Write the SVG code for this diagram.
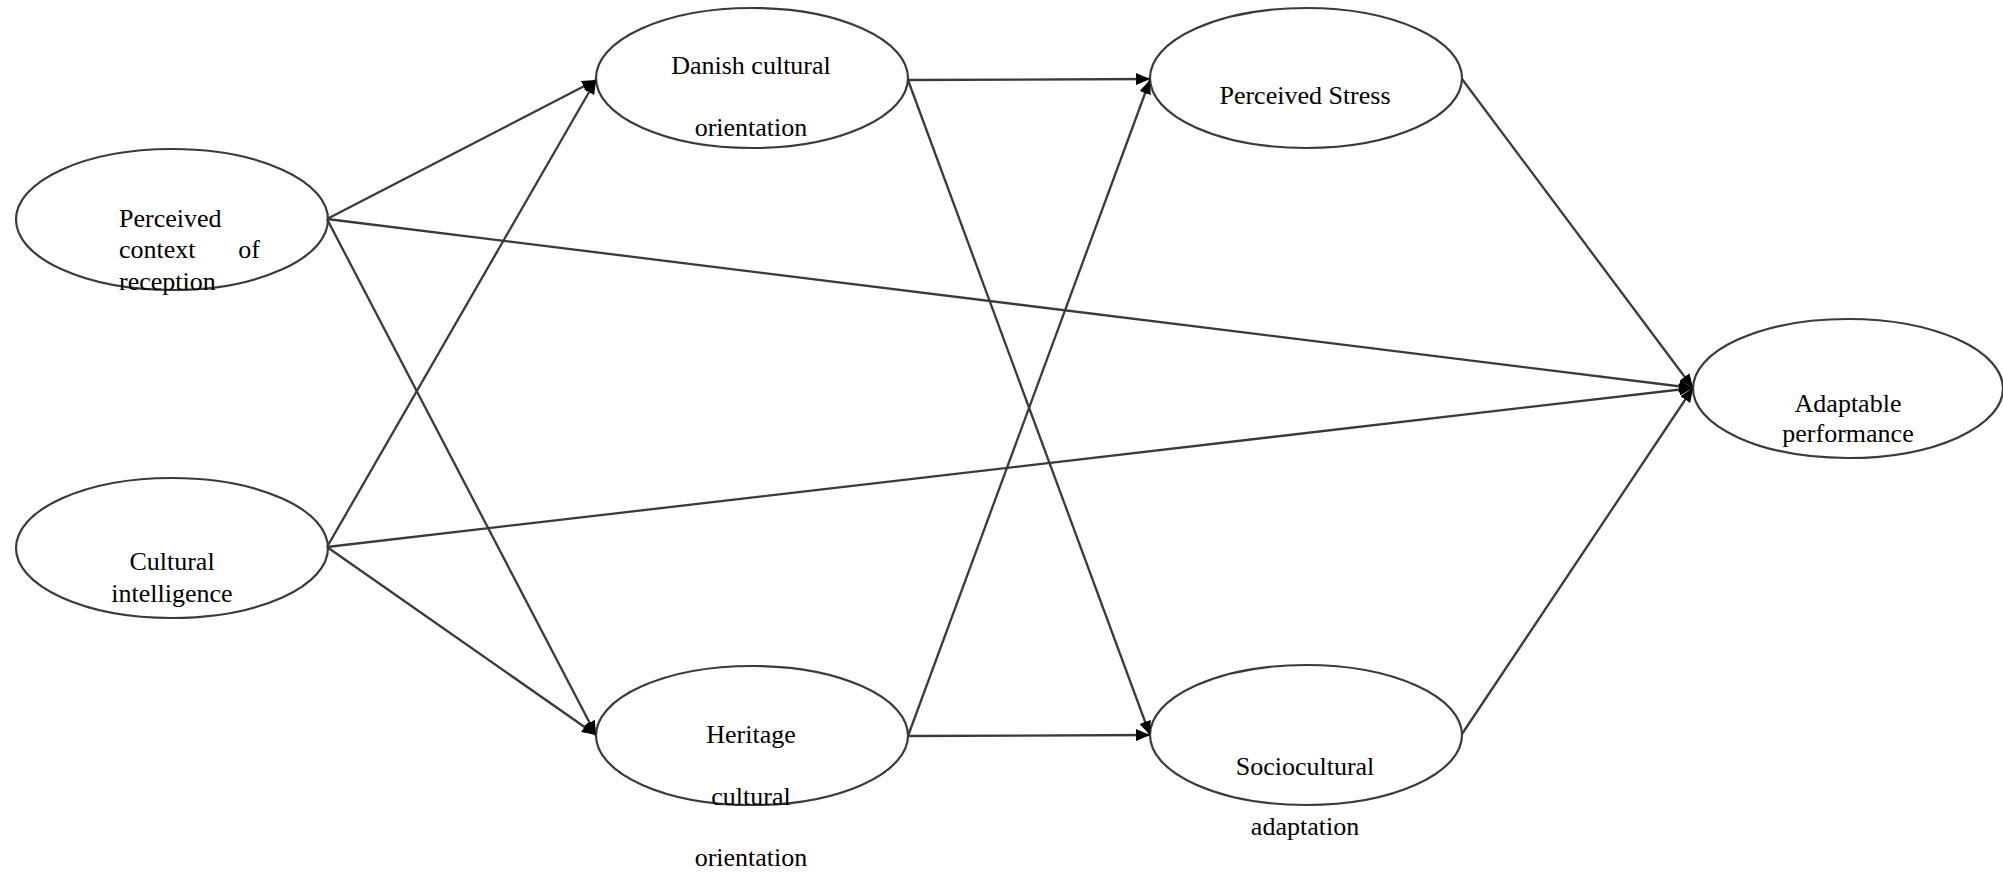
<svg xmlns="http://www.w3.org/2000/svg" width="2003" height="873" viewBox="0 0 2003 873">
<style>
.node ellipse{fill:#ffffff;stroke:#3a3a3a;stroke-width:2.2}
.node text{font-family:"Liberation Serif","Times New Roman",serif;font-size:26px;fill:#000000}
.c{text-anchor:middle}
#connectors line{stroke:#3a3a3a;stroke-width:2.3;fill:none;marker-end:url(#arrow)}
</style>
<defs>
<marker id="arrow" markerUnits="userSpaceOnUse" markerWidth="15" markerHeight="12" refX="14" refY="6" orient="auto">
<path d="M0,0 L14,6 L0,12 z" fill="#000000"/>
</marker>
</defs>
<rect width="2003" height="873" fill="#ffffff"/>
<g id="n-pcr" class="node">
<ellipse cx="172" cy="219.5" rx="156" ry="70.5"/>
<text x="119" y="227">Perceived</text>
<text x="119" y="258">context</text>
<text x="260" y="258" text-anchor="end">of</text>
<text x="119" y="290">reception</text>
</g>
<g id="n-ci" class="node">
<ellipse cx="172" cy="548" rx="156" ry="70"/>
<text class="c" x="172" y="570">Cultural</text>
<text class="c" x="172" y="602">intelligence</text>
</g>
<g id="n-dco" class="node">
<ellipse cx="752" cy="78" rx="156" ry="70"/>
<text class="c" x="751" y="74">Danish cultural</text>
<text class="c" x="751" y="136">orientation</text>
</g>
<g id="n-hco" class="node">
<ellipse cx="752" cy="735.5" rx="156" ry="69.5"/>
<text class="c" x="751" y="743">Heritage</text>
<text class="c" x="751" y="805">cultural</text>
<text class="c" x="751" y="866">orientation</text>
</g>
<g id="n-ps" class="node">
<ellipse cx="1306" cy="78" rx="156" ry="70"/>
<text class="c" x="1305" y="104">Perceived Stress</text>
</g>
<g id="n-sa" class="node">
<ellipse cx="1306" cy="735" rx="156" ry="70"/>
<text class="c" x="1305" y="775">Sociocultural</text>
<text class="c" x="1305" y="835">adaptation</text>
</g>
<g id="n-ap" class="node">
<ellipse cx="1848" cy="388.5" rx="155" ry="69.5"/>
<text class="c" x="1848" y="412">Adaptable</text>
<text class="c" x="1848" y="442">performance</text>
</g>
<g id="connectors">
<line x1="327" y1="219" x2="596" y2="80"/>
<line x1="327" y1="219" x2="596" y2="735"/>
<line x1="327" y1="219" x2="1693" y2="388"/>
<line x1="327" y1="547" x2="596" y2="80"/>
<line x1="327" y1="547" x2="596" y2="735"/>
<line x1="327" y1="547" x2="1693" y2="388"/>
<line x1="908" y1="80" x2="1150" y2="79"/>
<line x1="908" y1="80" x2="1150" y2="735"/>
<line x1="908" y1="736" x2="1150" y2="80"/>
<line x1="908" y1="736" x2="1150" y2="735"/>
<line x1="1462" y1="79" x2="1693" y2="388"/>
<line x1="1462" y1="734" x2="1693" y2="388"/>
</g>
</svg>
